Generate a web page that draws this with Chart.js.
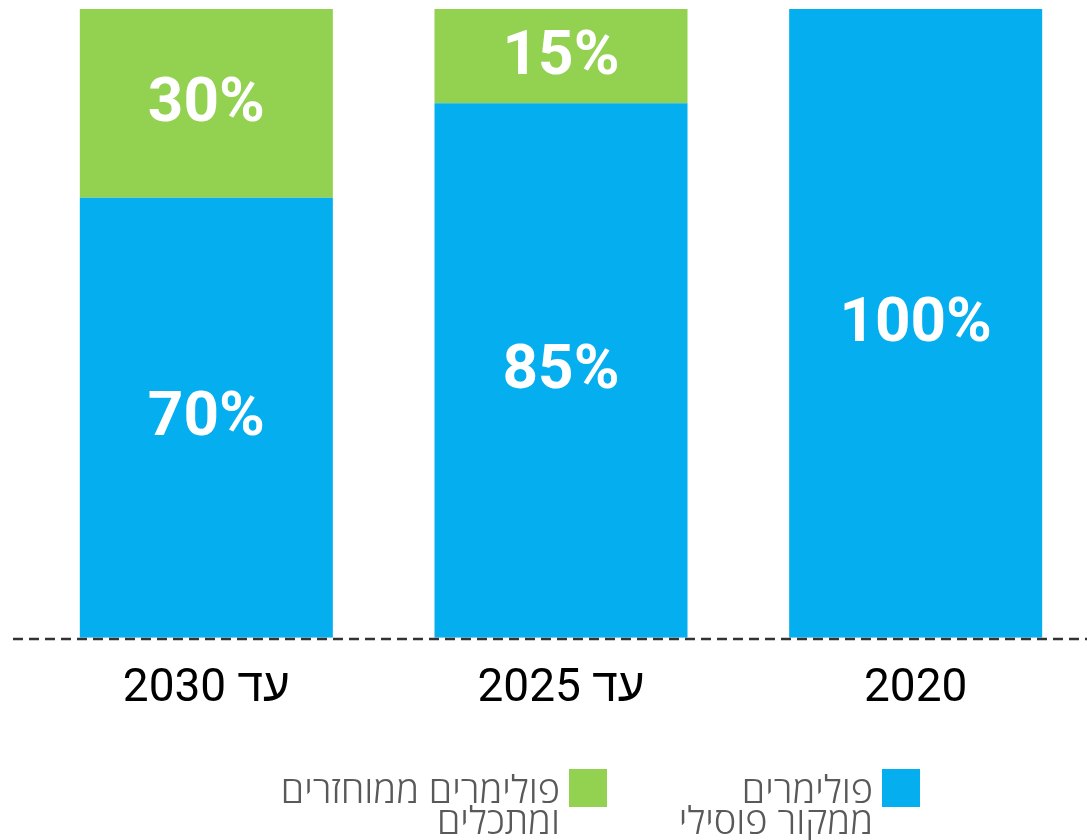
<!DOCTYPE html>
<html lang="he">
<head>
<meta charset="utf-8">
<script src="https://cdn.jsdelivr.net/npm/chart.js@4.4.1/dist/chart.umd.min.js"></script>
<style>
  html, body { margin: 0; padding: 0; background: #fff; overflow: hidden; }
  #wrap { position: absolute; left: 0; top: 0; width: 1094px; height: 765px; }
  .legend-item { position: absolute; top: 769px; display: flex; direction: rtl; align-items: flex-start; }
  .legend-item .box { width: 38px; height: 38px; flex: none; }
  .legend-item .txt {
    margin-right: 9px; margin-top: 4px;
    font-family: "Open Sans", "Noto Sans", sans-serif; font-weight: 300; font-size: 38px; line-height: 31px;
    color: #595959; white-space: nowrap;
  }
</style>
</head>
<body>
<div id="wrap"><canvas id="planChart"></canvas></div>
<div id="legend"></div>
<script>
  // years, right to left
  const categories = ['2020', 'עד 2025', 'עד 2030'];
  const fossil = [100, 85, 70];
  const recycled = [0, 15, 30];
  const seriesNames = ['פולימרים ממקור פוסילי', 'פולימרים ממוחזרים ומתכלים'];
  const legendLines = [['פולימרים', 'ממקור פוסילי'], ['פולימרים ממוחזרים', 'ומתכלים']];
  const colors = ['#05AFEF', '#93D150'];

  // percentage written in the middle of each segment
  const segmentLabels = {
    id: 'segmentLabels',
    afterDatasetsDraw(chart) {
      const ctx = chart.ctx;
      ctx.save();
      ctx.font = 'bold 62px Roboto';
      ctx.fillStyle = '#fff';
      ctx.textAlign = 'center';
      ctx.textBaseline = 'middle';
      chart.data.datasets.forEach((ds, i) => {
        chart.getDatasetMeta(i).data.forEach((bar, j) => {
          const v = ds.data[j];
          if (!v) return;
          ctx.fillText(v + '%', bar.x, (bar.y + bar.base) / 2 + 2);
        });
      });
      ctx.restore();
    }
  };

  // dashed baseline across the full width
  const baseline = {
    id: 'baseline',
    afterDatasetsDraw(chart) {
      const ctx = chart.ctx;
      const y = Math.round(chart.scales.y.getPixelForValue(0)) + 1;
      ctx.save();
      ctx.strokeStyle = '#333';
      ctx.lineWidth = 2.5;
      ctx.setLineDash([10, 6]);
      ctx.beginPath();
      ctx.moveTo(13, y);
      ctx.lineTo(chart.width, y);
      ctx.stroke();
      ctx.restore();
    }
  };

  new Chart(document.getElementById('planChart'), {
    type: 'bar',
    data: {
      labels: categories,
      datasets: [
        { label: seriesNames[0], data: fossil, backgroundColor: colors[0] },
        { label: seriesNames[1], data: recycled, backgroundColor: colors[1] }
      ]
    },
    options: {
      responsive: true,
      maintainAspectRatio: false,
      animation: false,
      categoryPercentage: 1,
      barPercentage: 0.7134,
      layout: { padding: { left: 29, right: 1, top: 9, bottom: 24 } },
      plugins: { legend: { display: false }, tooltip: { enabled: false } },
      scales: {
        x: {
          stacked: true,
          reverse: true,
          grid: { display: false, drawTicks: false },
          border: { display: false },
          ticks: { color: '#000', font: { family: 'Roboto, "Liberation Sans"', size: 46 }, padding: 24 }
        },
        y: { stacked: true, display: false, min: 0, max: 100 }
      }
    },
    plugins: [segmentLabels, baseline]
  });

  // legend, built from the series names and colours
  const legendRight = [167, 480];
  const legendEl = document.getElementById('legend');
  legendLines.forEach((lines, i) => {
    const item = document.createElement('div');
    item.className = 'legend-item';
    item.style.right = legendRight[i] + 'px';
    item.title = seriesNames[i];
    item.innerHTML = '<div class="box" style="background:' + colors[i] + '"></div>' +
      '<div class="txt">' + lines.join('<br>') + '</div>';
    legendEl.appendChild(item);
  });
</script>
</body>
</html>
